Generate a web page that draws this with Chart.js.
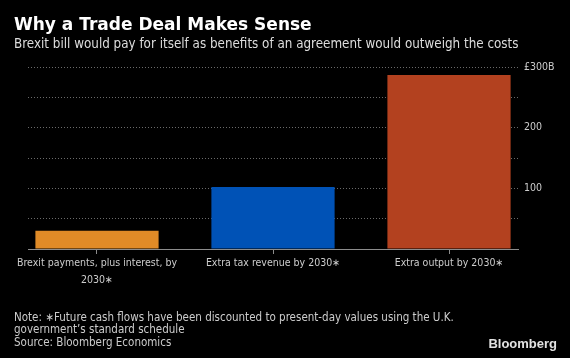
<!DOCTYPE html>
<html>
<head>
<meta charset="utf-8">
<script src="https://cdn.jsdelivr.net/npm/chart.js@4"></script>
<style>
  body { margin: 0; background: #000; width: 570px; height: 358px; overflow: hidden; position: relative; }
  .txt { position: absolute; white-space: nowrap; }
  #title { left: 14px; top: 14.4px; font: bold 17px/20px "DejaVu Sans"; color: #fff; }
  #subtitle { left: 14px; top: 36px; font: 13.3px/16px "DejaVu Sans Condensed"; color: #ddd; }
  #notes { left: 14px; top: 310.6px; font: 11.5px/12.5px "DejaVu Sans Condensed"; color: #ccc; }
  #logo { right: 13px; top: 336.5px; font: bold 13px/14px "Liberation Sans"; color: #e2e2e2; }
  #wrap { position: absolute; left: 0; top: 0; width: 570px; height: 358px; }
</style>
</head>
<body>
<div id="wrap"><canvas id="chart"></canvas></div>
<div class="txt" id="title">Why a Trade Deal Makes Sense</div>
<div class="txt" id="subtitle">Brexit bill would pay for itself as benefits of an agreement would outweigh the costs</div>
<div class="txt" id="notes">Note: ∗Future cash flows have been discounted to present-day values using the U.K.<br>government’s standard schedule<br>Source: Bloomberg Economics</div>
<div class="txt" id="logo">Bloomberg</div>
<script>
const categories = [['Brexit payments, plus interest, by', '2030∗'], 'Extra tax revenue by 2030∗', 'Extra output by 2030∗'];
const values = [30, 102, 287];
const barColors = ['#e08b27', '#0052b6', '#b3411f'];
const yTicks = { 100: '100', 200: '200', 300: '£300B' };

// categories sit on a linear axis so the outer bars can run past the grid ends, as in the original
const positions = categories.map((_, i) => i);

new Chart(document.getElementById('chart'), {
    type: 'bar',
    data: {
        labels: positions,
        datasets: [{ data: values, backgroundColor: barColors, borderWidth: 0, categoryPercentage: 1, barPercentage: 0.7 }]
    },
    options: {
        responsive: true, maintainAspectRatio: false, animation: false,
        layout: { padding: { top: 67, left: 28, right: 0, bottom: 59 } },
        plugins: { legend: { display: false }, tooltip: { enabled: false } },
        scales: {
            x: {
                type: 'linear', min: -0.392, max: 2.392, offset: false,
                afterFit: s => { s.height = 50; },
                afterBuildTicks: s => { s.ticks = positions.map(v => ({ value: v })); },
                grid: { display: true, offset: false, drawOnChartArea: false, drawTicks: true, tickLength: 5, color: '#8c8c8c' },
                border: { display: true, color: '#8c8c8c', width: 1 },
                ticks: {
                    color: '#cccccc', padding: 1, maxRotation: 0, autoSkip: false,
                    font: { family: 'DejaVu Sans Condensed', size: 10.5, lineHeight: 1.6 },
                    callback: v => categories[v]
                }
            },
            y: {
                position: 'right', min: 0, max: 300,
                afterFit: s => { s.width = 52; },
                grid: { display: true, drawTicks: false, color: c => c.tick && c.tick.value === 0 ? 'transparent' : '#6a6a6a' },
                border: { display: false, dash: [1, 2] },
                ticks: {
                    stepSize: 50, padding: 6, color: '#cccccc',
                    font: { family: 'DejaVu Sans Condensed', size: 10.5 },
                    callback: v => yTicks[v] || ''
                }
            }
        }
    }
});
</script>
</body>
</html>
